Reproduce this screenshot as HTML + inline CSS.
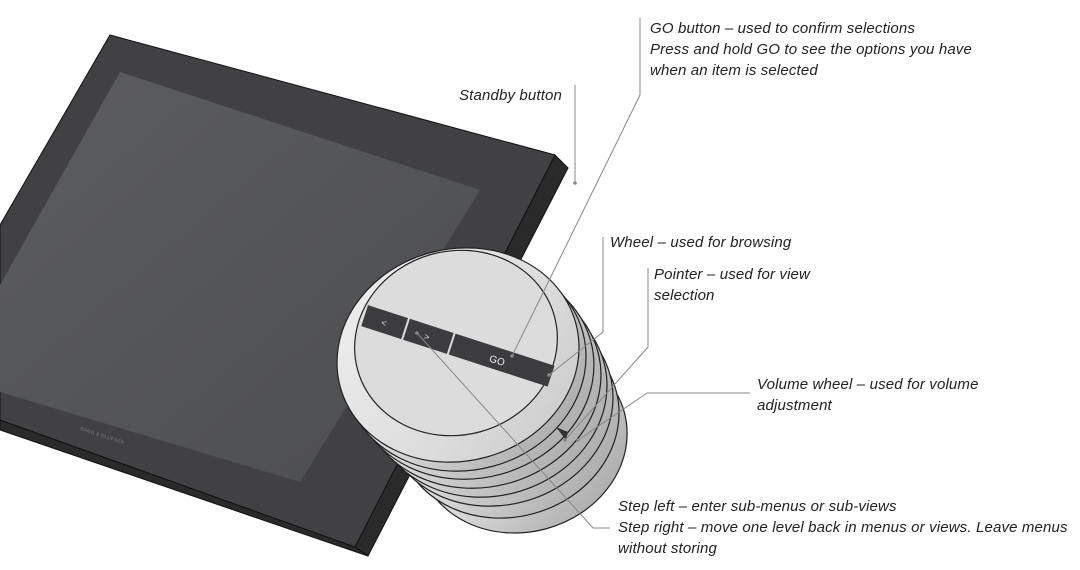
<!DOCTYPE html>
<html><head><meta charset="utf-8"><style>
html,body{margin:0;padding:0;background:#fff;}
svg{display:block;}
text{font-family:"Liberation Sans",sans-serif;font-style:italic;font-size:15px;letter-spacing:0.15px;fill:#222;}
</style></head><body>
<svg width="1080" height="570" viewBox="0 0 1080 570" xmlns="http://www.w3.org/2000/svg">
<defs>
<linearGradient id="met" x1="0" y1="0" x2="1" y2="1">
<stop offset="0" stop-color="#f4f4f4"/><stop offset="0.5" stop-color="#d4d4d4"/><stop offset="1" stop-color="#a0a0a0"/>
</linearGradient>
<linearGradient id="rim" x1="0" y1="0" x2="1" y2="1">
<stop offset="0" stop-color="#f0f0f0"/><stop offset="0.6" stop-color="#dcdcdc"/><stop offset="1" stop-color="#c8c8c8"/>
</linearGradient>
<linearGradient id="scr" x1="0" y1="0" x2="1" y2="1">
<stop offset="0" stop-color="#5c5d5f"/><stop offset="1" stop-color="#4c4d4f"/>
</linearGradient>
</defs>
<!-- panel -->
<polygon points="555,155 568,168 368,556 355,547" fill="#2a2a2b" stroke="#111" stroke-width="1"/>
<polygon points="0,420 355,547 368,556 0,430" fill="#2a2a2b" stroke="#111" stroke-width="1"/>
<polygon points="0,225 110,35 555,155 355,547 0,420" fill="#414143" stroke="#111" stroke-width="1"/>
<polygon points="0,285 120,72 480,190 300,482 0,392" fill="url(#scr)"/>
<text x="80" y="430" transform="rotate(18 80 430)" style="font-size:5px;fill:#777;font-style:normal">BANG &amp; OLUFSEN</text>
<!-- knob body -->
<g stroke="#222" stroke-width="1.2">
<ellipse cx="522" cy="440" rx="106" ry="92" transform="rotate(-15 522 440)" fill="url(#met)"/>
<ellipse cx="508" cy="420" rx="112" ry="97" transform="rotate(-15 508 420)" fill="url(#met)"/>
<ellipse cx="498" cy="405" rx="116" ry="100" transform="rotate(-15 498 405)" fill="url(#met)"/>
<ellipse cx="489" cy="393" rx="119" ry="103" transform="rotate(-15 489 393)" fill="url(#met)"/>
<ellipse cx="481" cy="383" rx="121" ry="104" transform="rotate(-15 481 383)" fill="url(#met)"/>
<ellipse cx="473" cy="373" rx="122" ry="105" transform="rotate(-15 473 373)" fill="url(#met)"/>
<ellipse cx="465" cy="364" rx="122" ry="106" transform="rotate(-15 465 364)" fill="url(#met)"/>
<ellipse cx="458" cy="355" rx="122" ry="106" transform="rotate(-15 458 355)" fill="url(#rim)"/>
<ellipse cx="456" cy="343" rx="102" ry="92" transform="rotate(-15 456 343)" fill="#dcdcdc"/>
</g>
<polygon points="556,427 566,440 568,432" fill="#333"/>
<!-- button strip -->
<g transform="rotate(18 455 345)">
<rect x="360" y="334" width="42" height="22" fill="#3c3c3e"/>
<rect x="404" y="334" width="46" height="22" fill="#3c3c3e"/>
<rect x="452" y="334" width="104" height="22" fill="#3c3c3e"/>
<text x="378" y="349" style="font-size:9px;fill:#ddd;font-style:normal">&lt;</text>
<text x="423" y="349" style="font-size:9px;fill:#ddd;font-style:normal">&gt;</text>
<text x="492" y="350" style="font-size:10px;fill:#eee;font-style:normal">GO</text>
</g>
<!-- leaders -->
<g stroke="#888" stroke-width="1" fill="none">
<polyline points="575,85 575,183"/>
<polyline points="640,18 640,95 512,356"/>
<polyline points="603,237 603,332 549,375"/>
<polyline points="648,268 648,347 565,440"/>
<polyline points="750,393 647,393 578,440"/>
<polyline points="610,528 593,528 417,333"/>
</g>
<g fill="#888">
<circle cx="575" cy="183" r="1.8"/><circle cx="512" cy="356" r="1.8"/><circle cx="549" cy="375" r="1.8"/>
<circle cx="565" cy="440" r="1.8"/><circle cx="578" cy="440" r="1.8"/><circle cx="417" cy="333" r="1.8"/>
</g>
<!-- labels -->
<text x="650" y="33">GO button – used to confirm selections</text>
<text x="650" y="54">Press and hold GO to see the options you have</text>
<text x="650" y="75">when an item is selected</text>
<text x="459" y="100">Standby button</text>
<text x="610" y="247">Wheel – used for browsing</text>
<text x="654" y="279">Pointer – used for view</text>
<text x="654" y="300">selection</text>
<text x="757" y="389">Volume wheel – used for volume</text>
<text x="757" y="410">adjustment</text>
<text x="618" y="511">Step left – enter sub-menus or sub-views</text>
<text x="618" y="532">Step right – move one level back in menus or views. Leave menus</text>
<text x="618" y="553">without storing</text>
</svg>
</body></html>
